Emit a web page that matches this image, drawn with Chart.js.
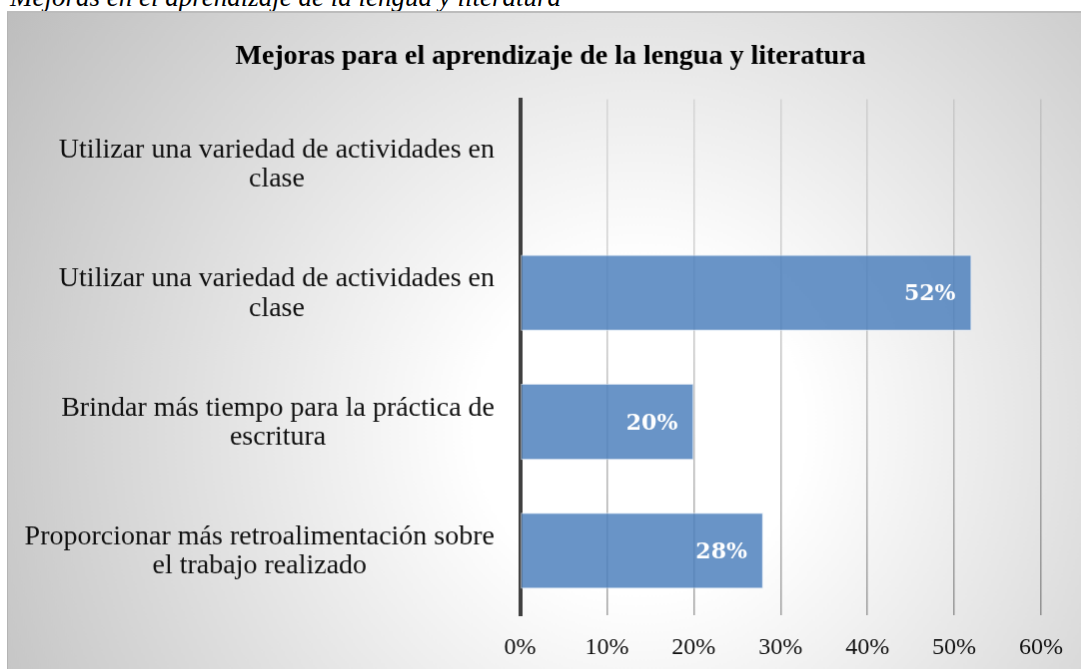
<!DOCTYPE html>
<html>
<head>
<meta charset="utf-8">
<script src="https://cdn.jsdelivr.net/npm/chart.js@4/dist/chart.umd.min.js"></script>
<style>
  body { margin: 0; background: #fff; width: 1082px; height: 671px; overflow: hidden; position: relative; }
  .caption {
    position: absolute; left: 10px; top: -16px;
    font: italic 27px/27px "Liberation Serif", serif; color: #000; white-space: nowrap;
  }
  #chart {
    position: absolute; left: 7px; top: 11px;
    border-top: 2px solid #bcbcbc; border-left: 1px solid #b4b4b4;
  }
</style>
</head>
<body>
<div class="caption">Mejoras en el aprendizaje de la lengua y literatura</div>
<canvas id="chart" width="1074" height="658"></canvas>
<script>
// data
const chartTitle = 'Mejoras para el aprendizaje de la lengua y literatura';
const categories = [
  ['Utilizar una variedad de actividades en', 'clase'],
  ['Utilizar una variedad de actividades en', 'clase'],
  ['Brindar más tiempo para la práctica de', 'escritura'],
  ['Proporcionar más retroalimentación sobre', 'el trabajo realizado'],
];
const values = [0, 52, 20, 28];
const axisMax = 60;
const axisStep = 10;

// radial grey-to-white background like the Excel chart area
const backgroundPlugin = {
  id: 'background',
  beforeDraw(chart) {
    const ctx = chart.ctx;
    const g = ctx.createRadialGradient(632, 417, 0, 632, 417, 760);
    g.addColorStop(0, '#ffffff');
    g.addColorStop(0.22, '#ffffff');
    g.addColorStop(1, '#bdbdbd');
    ctx.save();
    ctx.fillStyle = g;
    ctx.fillRect(0, 0, chart.width, chart.height);
    ctx.restore();
  }
};

// category labels: each block right-aligned, lines centered in the block
const categoryLabelPlugin = {
  id: 'categoryLabels',
  afterDraw(chart) {
    const ctx = chart.ctx;
    const yScale = chart.scales.y;
    const right = 487;
    const lineH = 29.5;
    ctx.save();
    ctx.font = '28px "Liberation Serif", serif';
    ctx.fillStyle = '#111';
    ctx.textAlign = 'center';
    ctx.textBaseline = 'middle';
    categories.forEach((lines, i) => {
      const cy = yScale.getPixelForTick(i) + 1;
      const w = Math.max(...lines.map((l) => ctx.measureText(l).width));
      const cx = right - w / 2;
      const start = cy - ((lines.length - 1) * lineH) / 2;
      lines.forEach((l, j) => ctx.fillText(l, cx, start + j * lineH));
    });
    ctx.restore();
  }
};

// value labels inside the bar ends
const valueLabelPlugin = {
  id: 'valueLabels',
  afterDatasetsDraw(chart) {
    const ctx = chart.ctx;
    const meta = chart.getDatasetMeta(0);
    ctx.save();
    ctx.font = 'bold 22px "DejaVu Serif", serif';
    ctx.fillStyle = '#ffffff';
    ctx.textAlign = 'right';
    ctx.textBaseline = 'middle';
    meta.data.forEach((bar, i) => {
      if (!values[i]) return;
      ctx.fillText(values[i] + '%', bar.x - 16, bar.y + 2);
    });
    ctx.restore();
  }
};

new Chart(document.getElementById('chart'), {
  type: 'bar',
  data: {
    labels: categories,
    datasets: [{
      data: values,
      backgroundColor: 'rgba(79, 129, 189, 0.85)',
      borderColor: 'rgba(220, 232, 245, 0.9)',
      borderWidth: 1,
      borderSkipped: false,
      categoryPercentage: 1,
      barPercentage: 0.59,
    }],
  },
  options: {
    indexAxis: 'y',
    responsive: false,
    animation: false,
    layout: { padding: { top: 0, right: 40, bottom: 0, left: 52 } },
    plugins: {
      legend: { display: false },
      tooltip: { enabled: false },
      title: {
        display: true,
        text: chartTitle,
        color: '#000',
        font: { family: '"Liberation Serif", serif', size: 28, weight: 'bold' },
        padding: { top: 27, bottom: 26 },
      },
    },
    scales: {
      x: {
        min: 0,
        max: axisMax,
        afterFit: (scale) => { scale.height = 54; },
        ticks: {
          stepSize: axisStep,
          padding: 18,
          color: '#111',
          font: { family: '"Liberation Serif", serif', size: 24 },
          callback: (v) => v + '%',
        },
        border: { display: false },
        grid: {
          drawTicks: false,
          lineWidth: 1.5,
          color: (c) => {
            const area = c.chart.chartArea;
            if (!area) return 'rgba(0,0,0,0.2)';
            const g = c.chart.ctx.createLinearGradient(0, area.top, 0, area.bottom);
            g.addColorStop(0, 'rgba(0,0,0,0.10)');
            g.addColorStop(1, 'rgba(0,0,0,0.36)');
            return g;
          },
        },
      },
      y: {
        afterFit: (scale) => { scale.width = 460.5; },
        ticks: { display: false },
        grid: { display: false, drawTicks: false },
        border: { display: true, color: '#404040', width: 4 },
      },
    },
  },
  plugins: [backgroundPlugin, categoryLabelPlugin, valueLabelPlugin],
});
</script>
</body>
</html>
